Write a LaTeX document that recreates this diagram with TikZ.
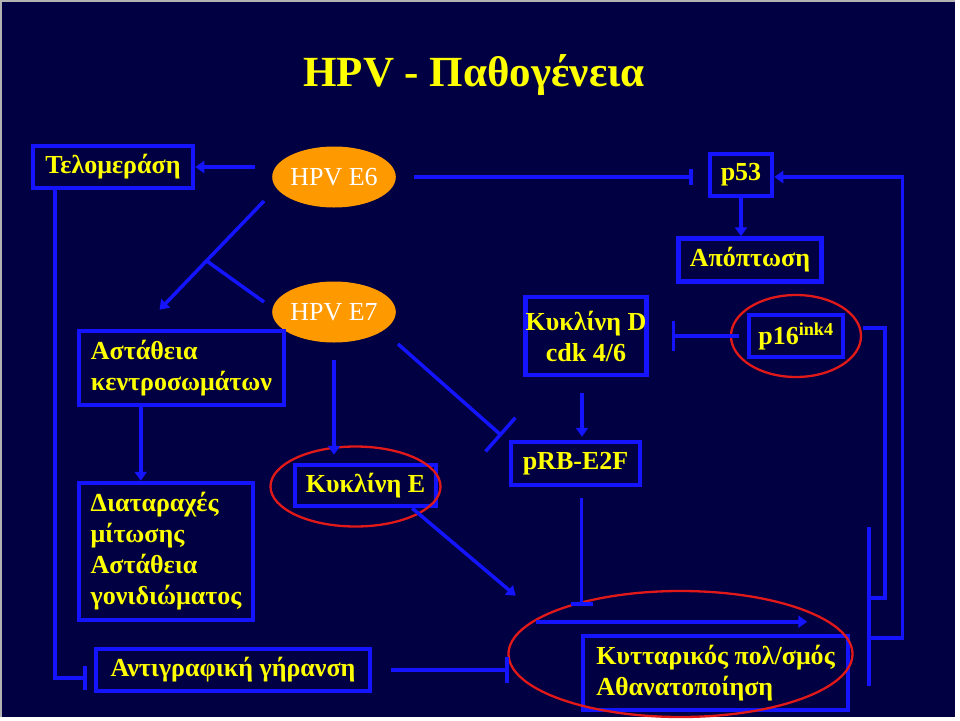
\documentclass[tikz,border=0pt]{standalone}
\usepackage{fontspec}
\setmainfont{Liberation Serif}
\usetikzlibrary{positioning, arrows.meta, shapes.geometric, calc}
\definecolor{slide}{RGB}{0,0,66}
\definecolor{wire}{RGB}{20,20,255}
\definecolor{gold}{RGB}{255,255,0}
\definecolor{amber}{RGB}{255,153,0}
\definecolor{rim}{RGB}{225,25,25}

\begin{document}
\begin{tikzpicture}[
        x=1pt, y=-1pt,
        block/.style={
          rectangle,
          draw=wire,
          line width=4.5pt,
          text=gold,
          inner sep=0pt,
          align=center,
          font=\bfseries\fontsize{26}{31}\selectfont
        },
        oval/.style={
          ellipse,
          fill=amber,
          text=white,
          minimum width=110pt,
          minimum height=61pt,
          inner sep=0pt,
          font=\fontsize{26}{31}\selectfont
        },
        ring/.style={
          ellipse,
          draw=rim,
          line width=2.3pt,
          inner sep=0pt
        },
        arrow/.style={
          -{Triangle[width=12pt,length=9pt]},
          draw=wire,
          line width=3.5pt
        },
        inhib/.style={
          -{Bar[width=#1]},
          draw=wire,
          line width=3.5pt
        },
        inhib/.default=20pt,
        conn/.style={
          draw=wire,
          line width=3.5pt
        }
      ]

      % Background
      \fill[white] (0,0) rectangle (960,720);
      \fill[gray!60] (0,0) rectangle (955,717);
      \fill[slide] (1.5,1.5) rectangle (955,717);
      \useasboundingbox (0,0) rectangle (960,720);

      % Nodes
      \node[font=\bfseries\fontsize{43}{50}\selectfont, text=gold, anchor=base] (title) at (474,86) {HPV - Παθογένεια};
      \node[block, minimum width=160pt, minimum height=42pt] (telo) at (113,167) {Τελομεράση};
      \node[oval] (e6) at (334,177) {HPV E6};
      \node[block, minimum width=62pt, minimum height=42pt] (p53) at (741,175) {p53};
      \node[block, minimum width=143pt, minimum height=43pt] (apopt) at (750,260) {Απόπτωση};
      \node[oval] (e7) at (334,312) {HPV E7};
      \node[block, align=left, minimum width=205pt, minimum height=74pt] (centro) at (181.5,368) {Αστάθεια\\κεντροσωμάτων};
      \node[block, minimum width=118pt, minimum height=78pt] (cycd) at (586,336) {Κυκλίνη D\\cdk 4/6};
      \node[block, minimum width=94pt, minimum height=42pt] (p16) at (796,336) {p16\textsuperscript{ink4}};
      \node[block, align=left, minimum width=174pt, minimum height=137pt] (mitos) at (166,551.5) {Διαταραχές\\μίτωσης\\Αστάθεια\\γονιδιώματος};
      \node[block, minimum width=141pt, minimum height=41pt] (cyce) at (365.5,485.5) {Κυκλίνη E};
      \node[block, minimum width=129pt, minimum height=43pt] (prb) at (575.5,463.5) {pRB-E2F};
      \node[block, minimum width=274pt, minimum height=42pt] (replic) at (233,670) {Αντιγραφική γήρανση};
      \node[block, align=left, minimum width=265pt, minimum height=74pt] (prolif) at (715.5,673) {Κυτταρικός πολ/σμός\\Αθανατοποίηση};

      % Highlight rings
      \node[ring, minimum width=130pt, minimum height=82pt] (p16ring) at (p16) {};
      \node[ring, minimum width=170pt, minimum height=80pt] (cycering) at ($(cyce)+(-10,1)$) {};
      \node[ring, minimum width=344pt, minimum height=126pt] (prolifring) at ($(prolif)+(-35,-19)$) {};

      % Free ends
      \coordinate (e6out) at ($(e6.west)+(-8,24)$);
      \coordinate (centroin) at ($(centro.north)+(-22,-19)$);
      \coordinate (fork) at ($(e6out)!0.55!(centroin)$);
      \coordinate (bartop) at (869,527);
      \coordinate (barbot) at (869,686);
      \coordinate (flowa) at ($(prolif.north west)+(-45,-12)$);
      \coordinate (flowb) at ($(prolif.north east)+(-43,-12)$);

      % HPV E6
      \draw[arrow, shorten <=17pt] (e6.west |- telo) -- (telo.east);
      \draw[inhib=16pt, shorten <=18pt, shorten >=15pt] (e6.east) -- (e6.east -| p53.west);
      \draw[arrow] (e6out) -- (centroin);
      \draw[arrow] (p53.south) -- (p53.south |- apopt.north);

      % HPV E7
      \draw[conn] ($(e7.west)+(-8,-10)$) -- (fork);
      \draw[arrow, shorten <=17pt, shorten >=8pt] (e7.south) -- (e7.south |- cyce.north);
      \draw[inhib=45pt] ($(e7)+(64,32)$) -- ($(prb.north west)+(-7,-4)$);

      % Left column
      \draw[inhib=24pt] ([xshift=24pt]telo.south west) |- ($(replic.west)+(-7,8)$);
      \draw[arrow] ([xshift=64pt]centro.south west) -- ([xshift=64pt]centro.south west |- mitos.north);

      % Cell cycle
      \draw[arrow, shorten <=16pt, shorten >=3pt] ([xshift=-4pt]cycd.south) -- ([xshift=-4pt]cycd.south |- prb.north);
      \draw[inhib=30pt, shorten <=8pt, shorten >=23pt] (p16.west) -- (p16.west -| cycd.east);
      \draw[arrow] ($(cyce.south east)+(-26,0)$) -- ($(prolif.north west)+(-65,-38)$);
      \draw[inhib=22pt, shorten <=11pt, shorten >=28pt] ([xshift=6pt]prb.south) -- ([xshift=6pt]prb.south |- prolif.north);
      \draw[arrow] (flowa) -- (flowb);
      \draw[inhib=26pt, shorten <=19pt, shorten >=72pt] (replic.east) -- (replic.east -| prolif.west);

      % Right feedback
      \draw[conn] (bartop) -- (barbot);
      \draw[conn] ($(p16.east)+(18,-8)$) -| ($(bartop)+(16,71)$) -- ($(bartop)+(0,71)$);
      \draw[arrow] ($(bartop)+(0,111)$) -| ($(p53.east)+(128,2)$) -- ($(p53.east)+(0,2)$);

    \end{tikzpicture}
\end{document}
